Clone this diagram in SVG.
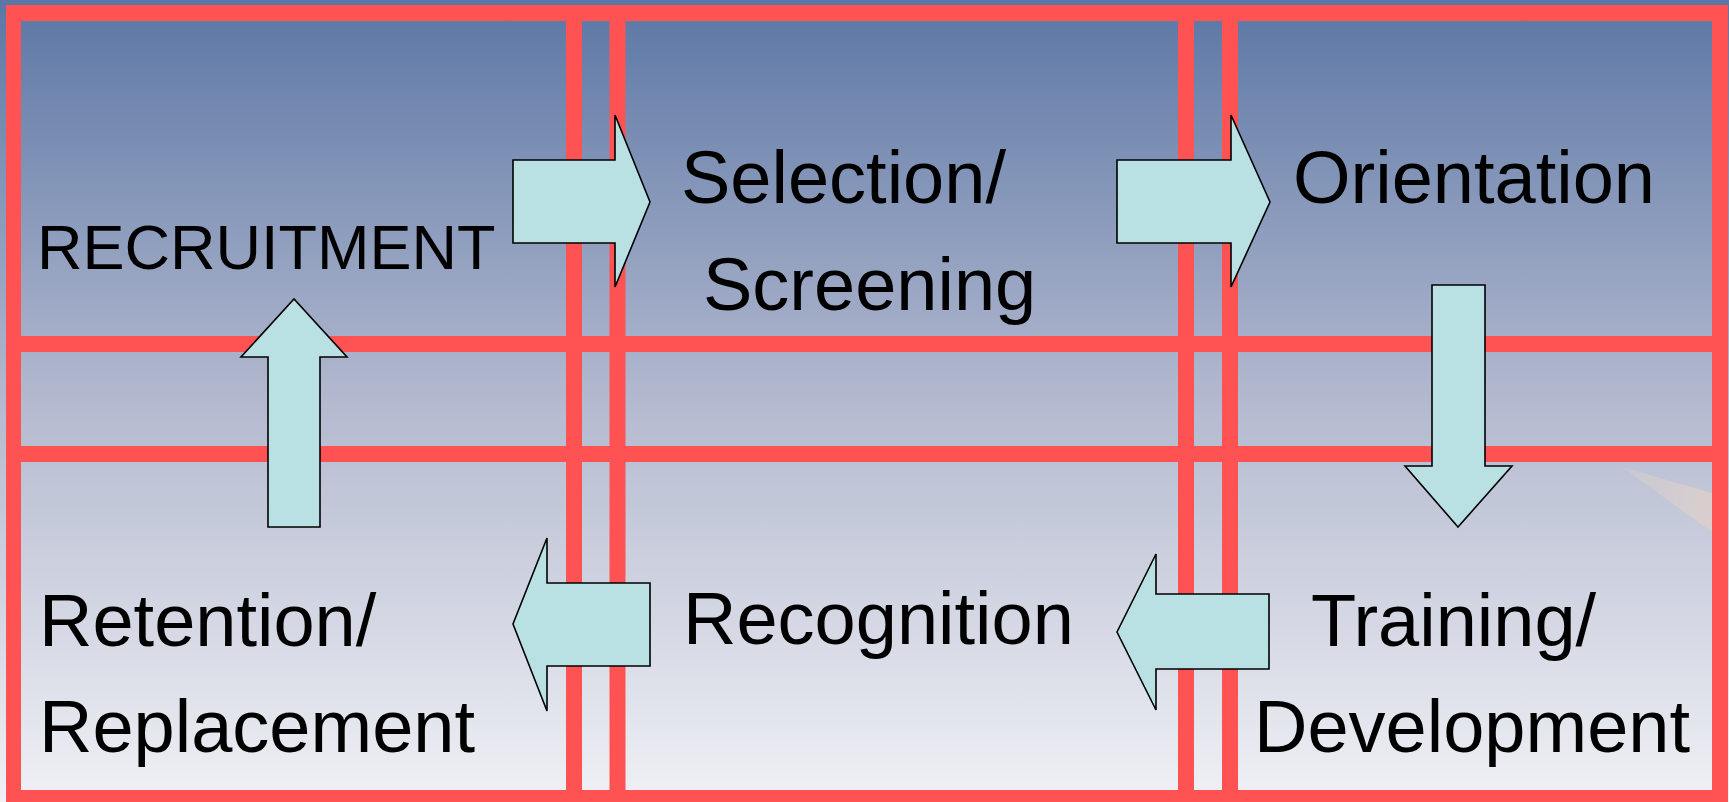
<svg xmlns="http://www.w3.org/2000/svg" width="1729" height="802" viewBox="0 0 1729 802">
<style>
.grid{fill:#FF5252}
.arrow{fill:#B9E0E3;stroke:#000;stroke-width:1.6;stroke-linejoin:miter}
.lbl{font-family:"Liberation Sans",Arial,sans-serif;font-size:74px;fill:#000}
.small{font-size:63px}
</style>
<defs>
<linearGradient id="bg" x1="0" y1="0" x2="0" y2="1">
<stop offset="0" stop-color="#5B77A5"/>
<stop offset="0.5" stop-color="#B3B9CF"/>
<stop offset="1" stop-color="#F0F1F5"/>
</linearGradient>
<linearGradient id="streak" x1="0" y1="0" x2="1" y2="0">
<stop offset="0" stop-color="#DCD0CD" stop-opacity="0.3"/>
<stop offset="1" stop-color="#DCCFCB" stop-opacity="0.9"/>
</linearGradient>
</defs>
<rect x="0" y="0" width="1729" height="802" fill="url(#bg)"/>
<polygon points="1622,467 1712,493 1712,532" fill="url(#streak)"/>
<g id="grid">
<rect class="grid" x="6" y="5" width="1722" height="16"/>
<rect class="grid" x="6" y="790" width="1722" height="12"/>
<rect class="grid" x="6" y="5" width="15" height="797"/>
<rect class="grid" x="1712" y="5" width="16" height="797"/>
<rect class="grid" x="566" y="5" width="16" height="797"/>
<rect class="grid" x="609.5" y="5" width="16" height="797"/>
<rect class="grid" x="1178" y="5" width="16" height="797"/>
<rect class="grid" x="1222" y="5" width="16" height="797"/>
<rect class="grid" x="6" y="336" width="1722" height="16"/>
<rect class="grid" x="6" y="446" width="1722" height="16"/>
</g>
<g id="connectors">
<path class="arrow" d="M513,160 H615 V115 L650,202 L615,287 V243 H513 Z"/>
<path class="arrow" d="M1117,160 H1231 V115 L1270,202 L1231,287 V243 H1117 Z"/>
<path class="arrow" d="M1432,285 H1485 V466 H1512 L1458,527 L1405,466 H1432 Z"/>
<path class="arrow" d="M1269,594 H1156 V554 L1117,632 L1156,710 V669 H1269 Z"/>
<path class="arrow" d="M650,583 H547 V538 L513,624 L547,711 V666 H650 Z"/>
<path class="arrow" d="M268,527 V357 H241 L294,299 L347,357 H320 V527 Z"/>
</g>
<g id="recruitment"><text class="lbl small" x="37" y="269">RECRUITMENT</text></g>
<g id="selection"><text class="lbl" x="681" y="203">Selection/</text><text class="lbl" x="703" y="310">Screening</text></g>
<g id="orientation"><text class="lbl" x="1293" y="203">Orientation</text></g>
<g id="training"><text class="lbl" x="1311" y="646">Training/</text><text class="lbl" x="1254" y="752">Development</text></g>
<g id="recognition"><text class="lbl" x="683" y="644">Recognition</text></g>
<g id="retention"><text class="lbl" x="39" y="646">Retention/</text><text class="lbl" x="39" y="752">Replacement</text></g>
</svg>
